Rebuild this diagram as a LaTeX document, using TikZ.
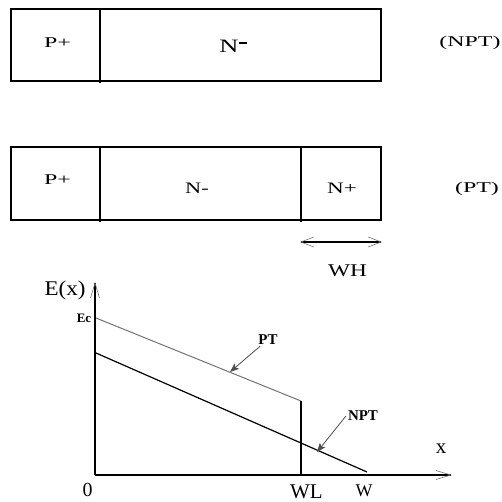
\documentclass[tikz,border=0pt]{standalone}
\usepackage{fontspec}
\setmainfont{Liberation Serif}
\usetikzlibrary{arrows.meta}
\begin{document}
\begin{tikzpicture}[x=1bp,y=-1bp,
  boxline/.style={draw=black, line width=1.5bp},
  axisline/.style={draw=black, line width=1.5bp},
  vtip/.style={-{Straight Barb[length=15bp,width=9bp,line width=0.6bp,color=black!55]}},
  ptr/.style={draw=black!70, line width=0.8pt, -{Stealth[length=9bp,width=7bp,inset=2bp]}},
  wide/.style={inner sep=0pt, transform shape, xscale=1.6, font=\fontsize{15}{17}\selectfont},
  biglbl/.style={inner sep=0pt, font=\fontsize{21}{24}\selectfont},
  smallbold/.style={inner sep=0pt, font=\fontsize{15}{17}\selectfont\bfseries}]
\useasboundingbox (0,0) rectangle (502,502);
% top box (NPT)
\coordinate (t1) at (11,9);
\coordinate (t2) at (381,81);
\draw[boxline] (t1) rectangle (t2);
\coordinate (td1) at (100,9);
\coordinate (td2) at (100,83);
\draw[boxline] (td1) -- (td2);
\node[wide] (tp) at (57.5,43) {P+};
\node[inner sep=0pt, transform shape, xscale=1.4, font=\fontsize{19}{21}\selectfont] (tn) at (233,46) {N\raisebox{0.45em}{\rule{0.3em}{0.09em}}};
\node[wide] (npt) at (470,43) {(NPT)};
% second box (PT)
\coordinate (b1) at (11,147);
\coordinate (b2) at (381,220);
\draw[boxline] (b1) rectangle (b2);
\coordinate (bd1) at (100,147);
\coordinate (bd2) at (100,222);
\draw[boxline] (bd1) -- (bd2);
\coordinate (bd3) at (301,147);
\coordinate (bd4) at (301,222);
\draw[boxline] (bd3) -- (bd4);
\node[wide] (bp) at (57.5,180) {P+};
\node[inner sep=0pt, transform shape, xscale=1.4, font=\fontsize{16}{18}\selectfont] (bn) at (197,188) {N-};
\node[inner sep=0pt, transform shape, xscale=1.45, font=\fontsize{16}{18}\selectfont] (bnp) at (342,188) {N+};
\node[wide] (pt) at (477,189) {(PT)};
% WH arrow
\coordinate (wh1) at (300,242);
\coordinate (wh2) at (382,242);
\draw[line width=1.4bp, {Straight Barb[length=13bp,width=10bp,line width=0.6bp,color=black!55]}-{Straight Barb[length=13bp,width=10bp,line width=0.6bp,color=black!55]}] (wh1) -- (wh2);
\node[inner sep=0pt, transform shape, xscale=1.3, font=\fontsize{18}{20}\selectfont] (wh) at (347.5,271) {WH};
% axes
\coordinate (o) at (95,475);
\coordinate (ytop) at (95,282);
\coordinate (xend) at (452,475);
\draw[axisline, vtip] (o) -- (ytop);
\draw[axisline, vtip] (o) -- (xend);
\node[biglbl, transform shape, xscale=1.1] (ex) at (65,290) {E(x)};
\node[inner sep=0pt, font=\fontsize{13}{15}\selectfont\bfseries] (ec) at (84,318) {Ec};
\node[inner sep=0pt, font=\fontsize{20}{22}\selectfont] (zero) at (87.5,490) {0};
\node[biglbl] (wl) at (306.5,492) {WL};
\node[inner sep=0pt, font=\fontsize{18}{20}\selectfont] (w) at (364,491) {W};
\node[biglbl] (xl) at (441,449) {x};
% PT curve
\coordinate (pts) at (96,318);
\coordinate (pte) at (301,401);
\coordinate (ptb) at (301,475);
\draw[draw=black!55, line width=1bp] (pts) -- (pte);
\draw[line width=1.4bp] (pte) -- (ptb);
% NPT curve
\coordinate (nps) at (96,353);
\coordinate (npe) at (367,472);
\draw[line width=1.2bp] (nps) -- (npe);
% pointers
\node[smallbold] (ptl) at (268,340) {PT};
\coordinate (pta) at (230,372);
\draw[ptr] ([xshift=2bp,yshift=-1bp]ptl.south west) -- (pta);
\node[smallbold] (nptl) at (363,416) {NPT};
\coordinate (npa) at (317,452);
\draw[ptr] ([xshift=-2bp,yshift=5bp]nptl.south west) -- (npa);
\end{tikzpicture}
\end{document}
